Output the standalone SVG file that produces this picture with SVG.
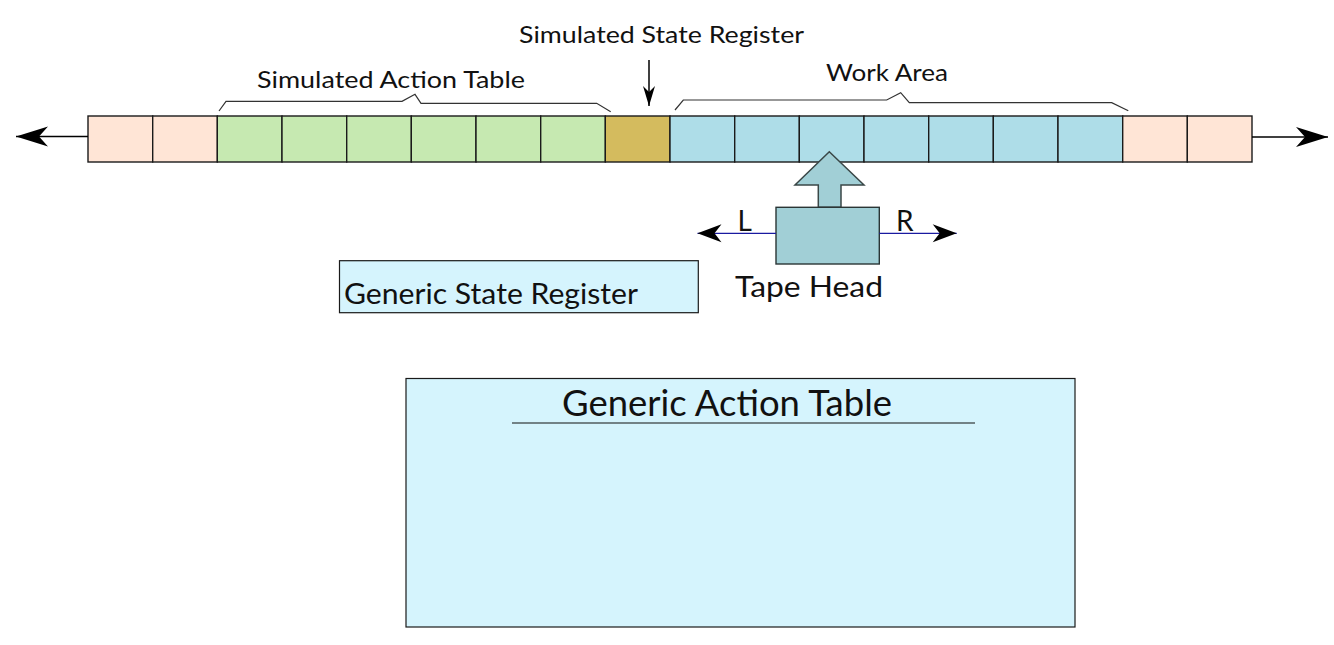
<svg xmlns="http://www.w3.org/2000/svg" width="1334" height="645" viewBox="0 0 1334 645">
<style>
text{font-family:Lato,"Open Sans","Liberation Sans",sans-serif;fill:#111}
.cell{stroke:#1a1a1a;stroke-width:1.4}
.pe{fill:#FFE5D6}.gr{fill:#C6E9B1}.go{fill:#D4BB5E}.bl{fill:#AEDDE8}
.brace{fill:none;stroke:#333;stroke-width:1.2}
.lbl{font-size:23px}
</style>
<defs>
<marker id="big" markerUnits="userSpaceOnUse" markerWidth="40" markerHeight="24" viewBox="-34 -12 36 24" refX="0" refY="0" orient="auto"><path d="M0,0 L-32,-10 L-23,0 L-32,10 Z" fill="#000"/></marker>
<marker id="mid" markerUnits="userSpaceOnUse" markerWidth="30" markerHeight="22" viewBox="-26 -11 28 22" refX="0" refY="0" orient="auto"><path d="M0,0 L-24,-9 L-17,0 L-24,9 Z" fill="#000"/></marker>
<marker id="small" markerUnits="userSpaceOnUse" markerWidth="24" markerHeight="14" viewBox="-22 -7 24 14" refX="0" refY="0" orient="auto"><path d="M0,0 L-20,-6 L-14,0 L-20,6 Z" fill="#000"/></marker>
</defs>

<g id="tape">
<rect class="cell pe" x="88" y="116" width="64.7" height="46"/>
<rect class="cell pe" x="152.7" y="116" width="64.7" height="46"/>
<rect class="cell gr" x="217.3" y="116" width="64.7" height="46"/>
<rect class="cell gr" x="282" y="116" width="64.7" height="46"/>
<rect class="cell gr" x="346.7" y="116" width="64.7" height="46"/>
<rect class="cell gr" x="411.3" y="116" width="64.7" height="46"/>
<rect class="cell gr" x="476" y="116" width="64.7" height="46"/>
<rect class="cell gr" x="540.7" y="116" width="64.7" height="46"/>
<rect class="cell go" x="605.3" y="116" width="64.7" height="46"/>
<rect class="cell bl" x="670" y="116" width="64.7" height="46"/>
<rect class="cell bl" x="734.7" y="116" width="64.7" height="46"/>
<rect class="cell bl" x="799.3" y="116" width="64.7" height="46"/>
<rect class="cell bl" x="864" y="116" width="64.7" height="46"/>
<rect class="cell bl" x="928.7" y="116" width="64.7" height="46"/>
<rect class="cell bl" x="993.3" y="116" width="64.7" height="46"/>
<rect class="cell bl" x="1058" y="116" width="64.7" height="46"/>
<rect class="cell pe" x="1122.7" y="116" width="64.7" height="46"/>
<rect class="cell pe" x="1187.3" y="116" width="64.7" height="46"/>
</g>

<g id="sim-action-table">
<path class="brace" d="M219,111 L226,101.3 L402,101.3 L415,94.3 L421,103.3 L596.7,103.3 L610.7,111.7"/>
<text class="lbl" x="257" y="87.5" textLength="268" lengthAdjust="spacingAndGlyphs">Simulated Action Table</text>
</g>

<g id="sim-state-register">
<text class="lbl" x="519" y="43" textLength="285" lengthAdjust="spacingAndGlyphs">Simulated State Register</text>
</g>

<g id="work-area">
<path class="brace" d="M675,110 L683.3,100 L886.7,100 L900.7,92.7 L909.3,102.7 L1111.7,102.7 L1128.3,110.7"/>
<text class="lbl" x="826" y="81" textLength="122" lengthAdjust="spacingAndGlyphs">Work Area</text>
</g>

<g id="tape-head">
<path d="M829.3,151.7 L864,185 L841,185 L841,207.3 L818.3,207.3 L818.3,185 L795,185 Z" fill="#A1CFD6" stroke="#3A4747" stroke-width="1.5"/>
<rect x="776" y="207.3" width="103.3" height="56.7" fill="#A1CFD6" stroke="#2A3535" stroke-width="1.4"/>
<text x="735" y="297" font-size="28" textLength="148" lengthAdjust="spacingAndGlyphs">Tape Head</text>
<text x="737.5" y="231" font-size="28">L</text>
<text x="896" y="231" font-size="28">R</text>
</g>

<g id="generic-state-register">
<rect x="339.5" y="260.7" width="358.8" height="52" fill="#D5F4FD" stroke="#1a1a1a" stroke-width="1.2"/>
<text x="344" y="303.5" font-size="28" textLength="294" lengthAdjust="spacingAndGlyphs">Generic State Register</text>
</g>

<g id="generic-action-table">
<rect x="406" y="378.5" width="669" height="248.5" fill="#D5F4FD" stroke="#1a1a1a" stroke-width="1.2"/>
<text x="562" y="416" font-size="36" textLength="330" lengthAdjust="spacingAndGlyphs">Generic Action Table</text>
<line x1="512" y1="423" x2="975" y2="423" stroke="#111" stroke-width="1.2"/>
</g>

<g id="connectors">
<line x1="88" y1="136.5" x2="16" y2="136.5" stroke="#000" stroke-width="1.5" marker-end="url(#big)"/>
<line x1="1252" y1="137" x2="1328" y2="137" stroke="#000" stroke-width="1.5" marker-end="url(#big)"/>
<line x1="649" y1="60" x2="649" y2="106" stroke="#000" stroke-width="1.5" marker-end="url(#small)"/>
<line x1="776" y1="233.3" x2="697.5" y2="233.3" stroke="#1A1AA0" stroke-width="1.2" marker-end="url(#mid)"/>
<line x1="879.3" y1="233.3" x2="956.7" y2="233.3" stroke="#1A1AA0" stroke-width="1.2" marker-end="url(#mid)"/>
</g>
</svg>
